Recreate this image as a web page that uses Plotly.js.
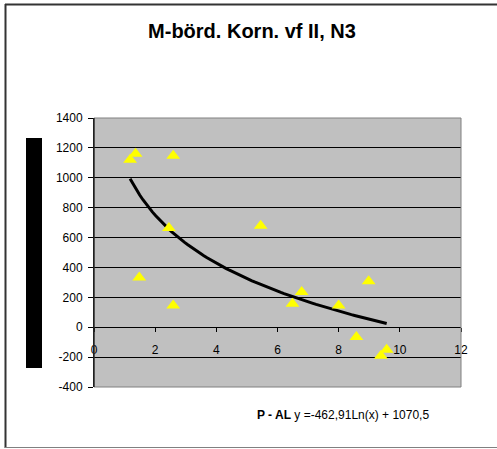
<!DOCTYPE html>
<html>
<head>
<meta charset="utf-8">
<script src="https://cdn.plot.ly/plotly-3.0.1.min.js"></script>
<style>html,body{margin:0;padding:0;background:#fff;}#chart{width:497px;height:449px;}</style>
</head>
<body>
<div id="chart"></div>
<script>
// Data
var pAL   = [1.18, 1.36, 2.59, 2.45, 1.48, 2.59, 5.45, 6.79, 6.49, 8.00, 8.98, 8.58, 9.57, 9.38];
var yield_ = [1121, 1161, 1148, 664, 333, 146, 679, 236, 157, 146, 307, -66, -150, -191];
// Logarithmic trendline as shown in the chart: y = -462,91 Ln(x) + 1070,5
var trendA = -462.91;
var trendB = 1070.5;
var yTicks = [-400, -200, 0, 200, 400, 600, 800, 1000, 1200, 1400];
var yTickText = ["-400", "-200", "0", "200", "400", "600", "800", "1000", "1200", "1400"];
var xTicks = [0, 2, 4, 6, 8, 10, 12];
var titleText = "M-börd. Korn. vf II, N3";
var xTitle = "P - AL";
var eqText = "y =-462,91Ln(x) + 1070,5";

var xmin = Math.min.apply(null, pAL), xmax = Math.max.apply(null, pAL);
var tx = [], ty = [];
for (var i = 0; i <= 80; i++) {
  var x = xmin + (xmax - xmin) * i / 80;
  tx.push(x); ty.push(trendA * Math.log(x) + trendB);
}

// pixel -> paper helpers (plot area 94..461 x 118..387)
var L = 94, R = 461, T = 118, B = 387;
function px(p) { return (p - L) / (R - L); }
function py(p) { return (B - p) / (B - T); }

var traces = [
  {x: tx, y: ty, mode: 'lines', line: {color: '#000', width: 3}, hoverinfo: 'skip', showlegend: false},
  {x: pAL, y: yield_, mode: 'markers', marker: {symbol: 'triangle-up', size: 12, color: '#FFFF00', line: {width: 0}}, showlegend: false}
];

var layout = {
  width: 497, height: 449,
  margin: {l: L, r: 497 - R, t: T, b: 449 - B, pad: 0},
  paper_bgcolor: '#fff', plot_bgcolor: '#C0C0C0',
  font: {family: 'Liberation Sans, Arial, sans-serif', size: 12, color: '#000'},
  title: {text: '<b>' + titleText + '</b>', font: {size: 20, color: '#000', family: 'Liberation Sans, Arial, sans-serif'},
          x: 0.507, xref: 'container', xanchor: 'center', y: 1 - 31 / 449, yref: 'container', yanchor: 'middle'},
  xaxis: {range: [0, 12], tickvals: xTicks, showgrid: false, zeroline: false,
          showline: true, linecolor: '#000', linewidth: 1,
          ticks: 'outside', ticklen: 4, tickcolor: '#000',
          anchor: 'free', position: 400 / 1800, ticklabelstandoff: 7,
          tickfont: {size: 12, color: '#000'}},
  yaxis: {range: [-400, 1400], tickvals: yTicks, ticktext: yTickText,
          showgrid: true, gridcolor: '#000', gridwidth: 1, zeroline: false,
          showline: true, linecolor: '#000', linewidth: 1,
          ticks: 'outside', ticklen: 5, tickcolor: '#000', ticklabelstandoff: 3,
          tickfont: {size: 12, color: '#000'}},
  shapes: [
    {type: 'rect', xref: 'paper', yref: 'paper', x0: 0, x1: 1, y0: 0, y1: 1, line: {color: '#808080', width: 1}, layer: 'above'},
    {type: 'line', xref: 'paper', yref: 'paper', x0: 0, x1: 0, y0: 0, y1: 1, line: {color: '#000', width: 1}, layer: 'above'},
    {type: 'rect', xref: 'paper', yref: 'paper', x0: px(26), x1: px(42), y0: py(368), y1: py(138), fillcolor: '#000', line: {width: 0}},
    {type: 'line', xref: 'paper', yref: 'paper', x0: px(5), x1: px(497), y0: py(4.5), y1: py(4.5), line: {color: '#333', width: 2}},
    {type: 'line', xref: 'paper', yref: 'paper', x0: px(5.5), x1: px(5.5), y0: py(4), y1: py(448), line: {color: '#333', width: 2}},
    {type: 'line', xref: 'paper', yref: 'paper', x0: px(5), x1: px(497), y0: py(447.5), y1: py(447.5), line: {color: '#808080', width: 1}}
  ],
  annotations: [
    {xref: 'paper', yref: 'paper', x: px(255), y: py(415), xanchor: 'left', yanchor: 'middle', showarrow: false,
     text: '<b>' + xTitle + '</b> ' + eqText, font: {size: 12, color: '#000'}}
  ]
};

Plotly.newPlot('chart', traces, layout, {displayModeBar: false, staticPlot: true});
</script>
</body>
</html>
